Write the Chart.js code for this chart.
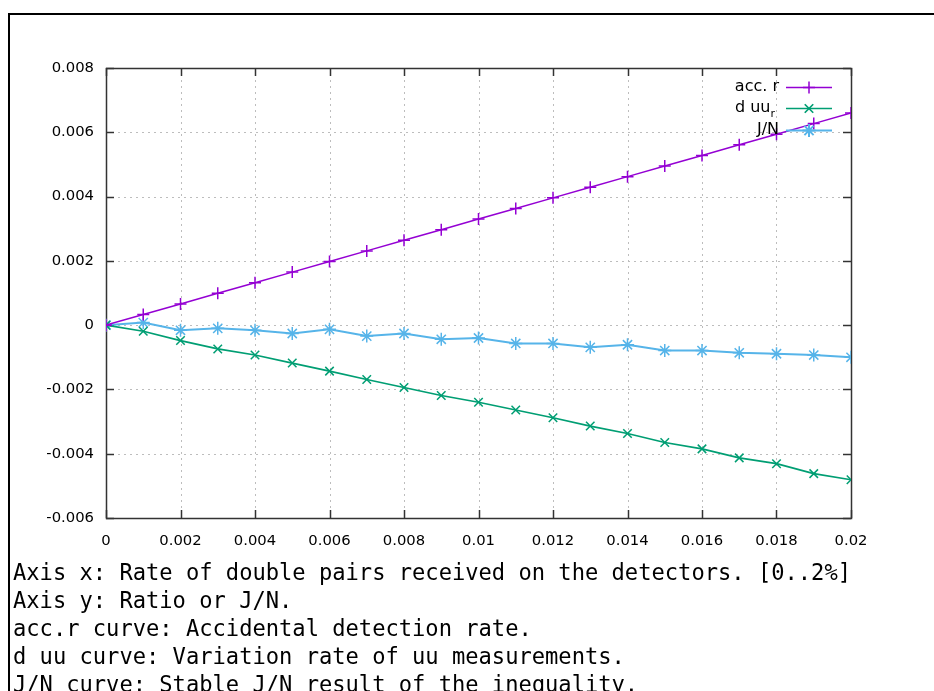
<!DOCTYPE html>
<html>
<head>
<meta charset="utf-8">
<script src="https://cdn.jsdelivr.net/npm/chart.js@4/dist/chart.umd.min.js"></script>
<style>
  html, body { margin: 0; padding: 0; width: 934px; height: 691px; overflow: hidden; background: #fff; }
  #frame { position: absolute; left: 8px; top: 13px; width: 1200px; height: 1200px; border-left: 2px solid #000; border-top: 2px solid #000; }
  #wrap { position: absolute; left: 0; top: 0; width: 934px; height: 560px; }
  #caption { position: absolute; left: 13px; top: 558px; font-family: "DejaVu Sans Mono", monospace; font-size: 22.1px; line-height: 28px; color: #000; white-space: pre; }
</style>
</head>
<body>
<div id="frame"></div>
<div id="wrap"><canvas id="c" width="934" height="560"></canvas></div>
<div id="caption">Axis x: Rate of double pairs received on the detectors. [0..2%]
Axis y: Ratio or J/N.
acc.r curve: Accidental detection rate.
d uu curve: Variation rate of uu measurements.
J/N curve: Stable J/N result of the inequality.</div>
<script>
const xValues = [0, 0.001, 0.002, 0.003, 0.004, 0.005, 0.006, 0.007, 0.008, 0.009, 0.010,
                 0.011, 0.012, 0.013, 0.014, 0.015, 0.016, 0.017, 0.018, 0.019, 0.020];
const accR = [0, 0.00033, 0.00066, 0.00099, 0.00132, 0.00165, 0.00198, 0.00231, 0.00264, 0.00297, 0.0033,
              0.00363, 0.00396, 0.00429, 0.00462, 0.00495, 0.00528, 0.00561, 0.00594, 0.00627, 0.0066];
const dUU = [0, -0.00019, -0.00048, -0.00074, -0.00093, -0.00118, -0.00143, -0.00169, -0.00194, -0.00219, -0.0024,
             -0.00264, -0.00288, -0.00314, -0.00337, -0.00365, -0.00385, -0.00413, -0.00431, -0.00462, -0.00481];
const jN = [0, 0.00008, -0.00016, -0.0001, -0.00016, -0.00026, -0.00013, -0.00034, -0.00026, -0.00044, -0.0004,
            -0.00057, -0.00057, -0.00069, -0.00061, -0.00079, -0.00079, -0.00086, -0.00089, -0.00093, -0.001];
const xTicks = [0, 0.002, 0.004, 0.006, 0.008, 0.01, 0.012, 0.014, 0.016, 0.018, 0.02];
const yTicks = [-0.006, -0.004, -0.002, 0, 0.002, 0.004, 0.006, 0.008];
const seriesNames = ['acc. r', 'd uu', 'J/N'];
const seriesColors = ['#9400d3', '#009e73', '#56b4e9'];

const tickFont = { family: '"DejaVu Sans", Verdana, sans-serif', size: 14.8 };
const legendFont = '16px "DejaVu Sans", Verdana, sans-serif';
const fmt = v => String(Number(v.toFixed(4)));

function pts(ys) { return xValues.map((x, i) => ({ x: x, y: ys[i] })); }

const framePlugin = {
  id: 'frame',
  beforeDatasetsDraw(chart) {
    const ctx = chart.ctx, a = chart.chartArea;
    const xs = chart.scales.x, ys = chart.scales.y;
    ctx.save();
    ctx.strokeStyle = '#bdbdbd';
    ctx.lineWidth = 1;
    ctx.setLineDash([2, 4]);
    xTicks.forEach(t => {
      const px = Math.round(xs.getPixelForValue(t)) + 0.5;
      ctx.beginPath(); ctx.moveTo(px, a.top); ctx.lineTo(px, a.bottom); ctx.stroke();
    });
    yTicks.forEach(t => {
      const py = Math.round(ys.getPixelForValue(t)) + 0.5;
      ctx.beginPath(); ctx.moveTo(a.left, py); ctx.lineTo(a.right, py); ctx.stroke();
    });
    ctx.setLineDash([]);
    ctx.strokeStyle = '#333';
    ctx.lineWidth = 1.5;
    const tl = 8;
    xTicks.forEach(t => {
      const px = Math.round(xs.getPixelForValue(t)) + 0.5;
      ctx.beginPath(); ctx.moveTo(px, a.bottom); ctx.lineTo(px, a.bottom - tl); ctx.stroke();
      ctx.beginPath(); ctx.moveTo(px, a.top); ctx.lineTo(px, a.top + tl); ctx.stroke();
    });
    yTicks.forEach(t => {
      const py = Math.round(ys.getPixelForValue(t)) + 0.5;
      ctx.beginPath(); ctx.moveTo(a.left, py); ctx.lineTo(a.left + tl, py); ctx.stroke();
      ctx.beginPath(); ctx.moveTo(a.right, py); ctx.lineTo(a.right - tl, py); ctx.stroke();
    });
    ctx.strokeStyle = '#333';
    ctx.lineWidth = 1.5;
    ctx.strokeRect(Math.round(a.left) + 0.5, Math.round(a.top) + 0.5, Math.round(a.right - a.left), Math.round(a.bottom - a.top));
    ctx.restore();
  },
  afterDatasetsDraw(chart) {
    const ctx = chart.ctx;
    ctx.save();
    const textRight = 779, lineL = 786, lineR = 832, rowY = [87, 108, 130];
    ctx.font = legendFont;
    ctx.textBaseline = 'middle';
    chart.data.datasets.forEach((ds, i) => {
      const y = rowY[i];
      ctx.fillStyle = '#000';
      ctx.textAlign = 'right';
      if (i === 1) {
        ctx.font = '11px "DejaVu Sans", Verdana, sans-serif';
        const rw = ctx.measureText('r').width;
        ctx.fillText('r', textRight - 4, y + 6);
        ctx.font = legendFont;
        ctx.fillText(seriesNames[i], textRight - 4 - rw, y);
      } else {
        ctx.fillText(seriesNames[i], textRight, y);
      }
      ctx.strokeStyle = ds.borderColor;
      ctx.lineWidth = ds.borderWidth;
      ctx.beginPath(); ctx.moveTo(lineL, y + 0.5); ctx.lineTo(lineR, y + 0.5); ctx.stroke();
      ctx.fillStyle = ds.borderColor;
      Chart.helpers.drawPoint(ctx, { pointStyle: ds.pointStyle, radius: ds.pointRadius, borderWidth: ds.pointBorderWidth, rotation: 0 }, (lineL + lineR) / 2, y + 0.5);
    });
    ctx.restore();
  }
};

new Chart(document.getElementById('c'), {
  type: 'line',
  data: {
    datasets: [
      { label: seriesNames[0], data: pts(accR), borderColor: seriesColors[0], backgroundColor: seriesColors[0],
        borderWidth: 1.5, pointStyle: 'cross', pointRadius: 6, pointBorderWidth: 1.5, tension: 0 },
      { label: seriesNames[1], data: pts(dUU), borderColor: seriesColors[1], backgroundColor: seriesColors[1],
        borderWidth: 1.7, pointStyle: 'crossRot', pointRadius: 6, pointBorderWidth: 1.5, tension: 0 },
      { label: seriesNames[2], data: pts(jN), borderColor: seriesColors[2], backgroundColor: seriesColors[2],
        borderWidth: 2, pointStyle: 'star', pointRadius: 6.5, pointBorderWidth: 1.5, tension: 0 }
    ]
  },
  options: {
    responsive: false,
    animation: false,
    events: [],
    layout: { padding: { left: 0, top: 68, right: 83, bottom: 0 } },
    plugins: { legend: { display: false }, tooltip: { enabled: false } },
    scales: {
      x: {
        type: 'linear', min: 0, max: 0.02,
        afterFit: s => { s.height = 42; },
        afterBuildTicks: s => { s.ticks = xTicks.map(v => ({ value: v })); },
        grid: { display: false }, border: { display: false },
        ticks: { font: tickFont, color: '#000', padding: 6, maxRotation: 0, autoSkip: false, callback: v => fmt(v) }
      },
      y: {
        type: 'linear', min: -0.006, max: 0.008,
        afterFit: s => { s.width = 106; },
        afterBuildTicks: s => { s.ticks = yTicks.map(v => ({ value: v })); },
        grid: { display: false }, border: { display: false },
        ticks: { font: tickFont, color: '#000', padding: 4, autoSkip: false, callback: v => fmt(v) }
      }
    }
  },
  plugins: [framePlugin]
});
</script>
</body>
</html>
